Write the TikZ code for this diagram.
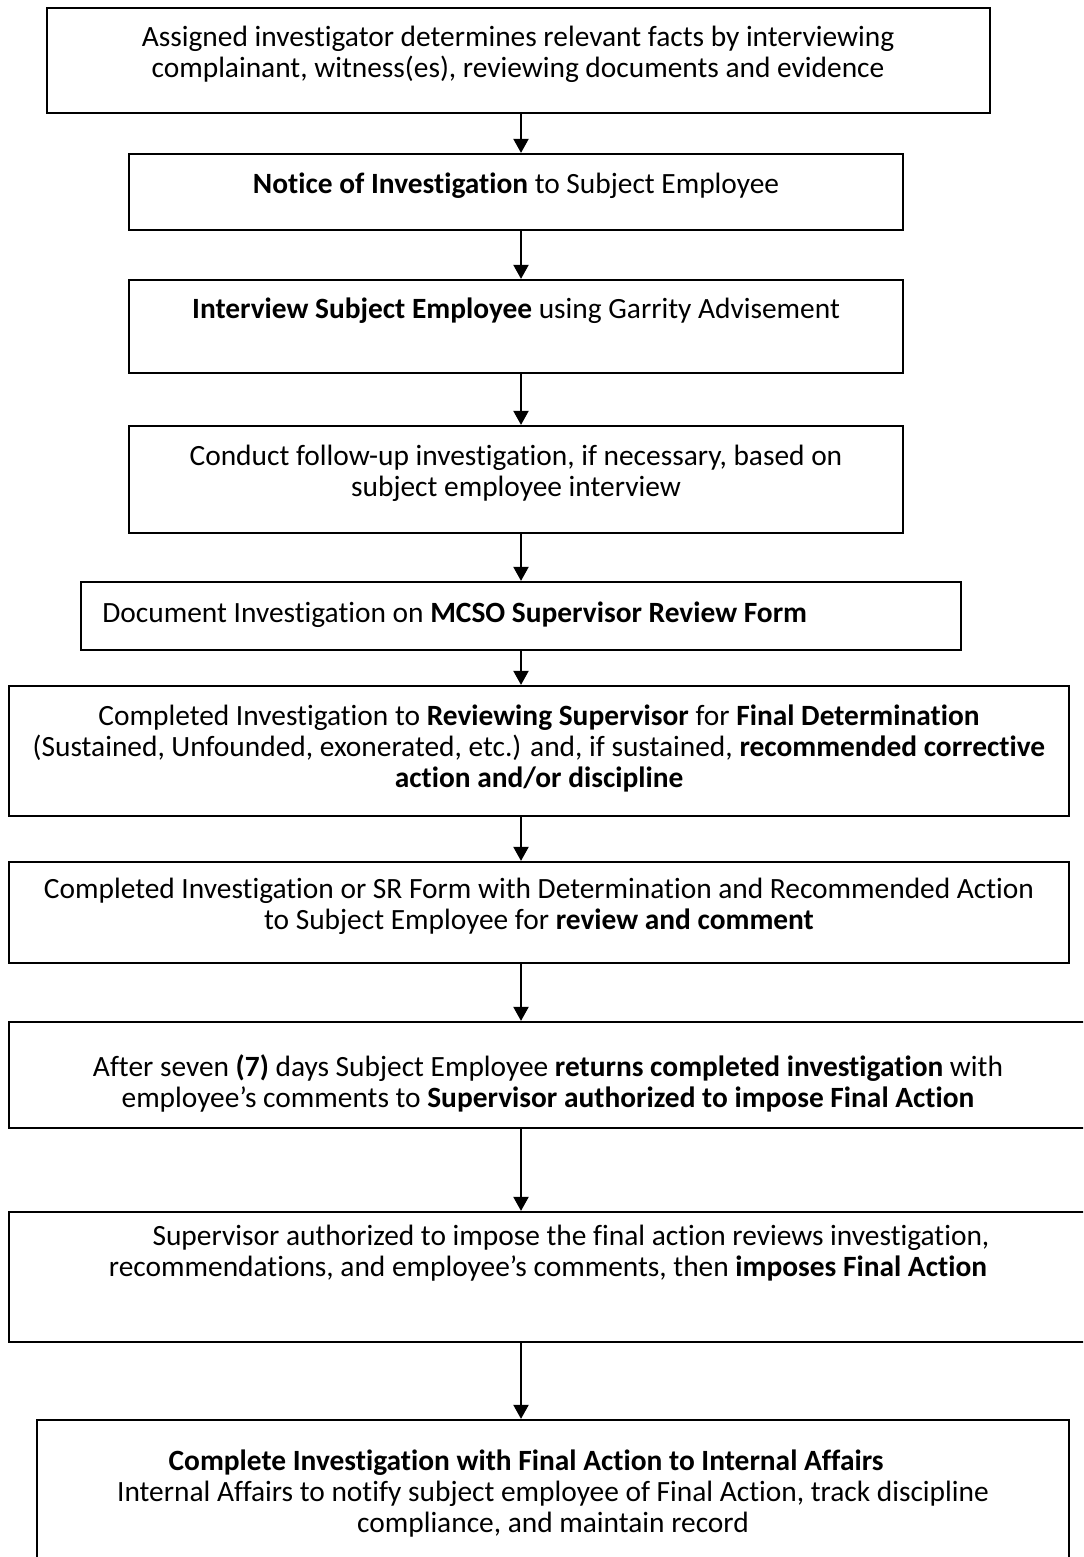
\documentclass[tikz,border=0pt]{standalone}
\usepackage{fontspec}
\setmainfont{Carlito}[Ligatures={NoCommon}]
\usetikzlibrary{arrows.meta}
\newcommand\tstrut{\rule{0pt}{12pt}}
\begin{document}
\begin{tikzpicture}[x=0.5pt,y=-0.5pt,
  box/.style={draw=black, line width=1.1pt, rectangle, inner sep=0pt},
  txt/.style={inner sep=0pt, align=center, anchor=north, font=\fontsize{14.7}{15.6}\selectfont},
  arr/.style={line width=1pt, -{Triangle[width=7.5pt,length=7pt]}}]
\useasboundingbox (0,0) rectangle (1083,1557);
\fill[white] (0,0) rectangle (1083,1557);
\clip (0,0) rectangle (1083,1557);
\coordinate (ax) at (521,0);
% boxes
\node[box, minimum width=471.5pt, minimum height=52.5pt] (b1) at (518.5,60.5) {};
\node[box, minimum width=387pt, minimum height=38pt] (b2) at (516,192) {};
\node[box, minimum width=387pt, minimum height=46.5pt] (b3) at (516,326.5) {};
\node[box, minimum width=387pt, minimum height=53.5pt] (b4) at (516,479.5) {};
\node[box, minimum width=440pt, minimum height=34pt] (b5) at (521,616) {};
\node[box, minimum width=530pt, minimum height=65pt] (b6) at (539,751) {};
\node[box, minimum width=530pt, minimum height=50.5pt] (b7) at (539,912.5) {};
\node[box, minimum width=540.5pt, minimum height=53pt] (b8) at (549.5,1075) {};
\node[box, minimum width=540.5pt, minimum height=65pt] (b9) at (549.5,1277) {};
\node[box, minimum width=516pt, minimum height=75pt] (b10) at (553,1495) {};
% texts (north = baseline - 24)
\node[txt] (t1) at (518,22) {\tstrut Assigned investigator determines relevant facts by interviewing\\complainant, witness(es), reviewing documents and evidence};
\node[txt] (t2) at (516,169) {\tstrut\textbf{Notice of Investigation} to Subject Employee};
\node[txt] (t3) at (516,294) {\tstrut\textbf{Interview Subject Employee} using Garrity Advisement};
\node[txt] (t4) at (516,441) {\tstrut Conduct follow-up investigation, if necessary, based on\\subject employee interview};
\node[txt, anchor=north west, align=left] (t5) at (102,598) {\tstrut Document Investigation on \textbf{MCSO Supervisor Review Form}};
\node[txt] (t6) at (539,701) {\tstrut Completed Investigation to \textbf{Reviewing Supervisor} for \textbf{Final Determination}\\(Sustained, Unfounded, exonerated, etc.) and, if sustained, \textbf{recommended corrective}\\\textbf{action and/or discipline}};
\node[txt] (t7) at (539,874) {\tstrut Completed Investigation or SR Form with Determination and Recommended Action\\to Subject Employee for \textbf{review and comment}};
\node[txt] (t8) at (548,1052) {\tstrut After seven \textbf{(7)} days Subject Employee \textbf{returns completed investigation} with\\employee’s comments to \textbf{Supervisor authorized to impose Final Action}};
\node[txt] (t9) at (548,1221) {\tstrut\hspace*{23pt}Supervisor authorized to impose the final action reviews investigation,\\recommendations, and employee’s comments, then \textbf{imposes Final Action}};
\node[txt] (t10) at (553,1446) {\tstrut\textbf{Complete Investigation with Final Action to Internal Affairs}\hspace*{27pt}\\Internal Affairs to notify subject employee of Final Action, track discipline\\compliance, and maintain record};
% arrows
\draw[arr] (b1.south -| ax) -- (b2.north -| ax);
\draw[arr] (b2.south -| ax) -- (b3.north -| ax);
\draw[arr] (b3.south -| ax) -- (b4.north -| ax);
\draw[arr] (b4.south -| ax) -- (b5.north -| ax);
\draw[arr] (b5.south -| ax) -- (b6.north -| ax);
\draw[arr] (b6.south -| ax) -- (b7.north -| ax);
\draw[arr] (b7.south -| ax) -- (b8.north -| ax);
\draw[arr] (b8.south -| ax) -- (b9.north -| ax);
\draw[arr] (b9.south -| ax) -- (b10.north -| ax);
\end{tikzpicture}
\end{document}
